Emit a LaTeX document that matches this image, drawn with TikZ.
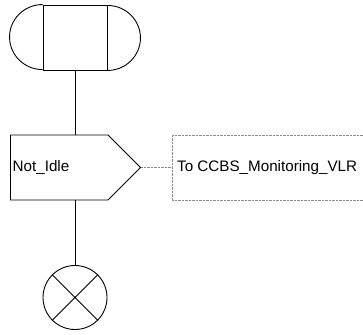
\documentclass[tikz,border=0pt]{standalone}
\usepackage{fontspec}
\setmainfont{Liberation Sans}
\usetikzlibrary{positioning,shapes.symbols}
\definecolor{ink}{HTML}{000000}
\definecolor{hair}{HTML}{8A8A8A}
\tikzset{
  every node/.style={font=\fontsize{15.2}{18}\selectfont, text=ink},
  sym/.style={draw=ink, line width=0.9pt, inner sep=0pt},
  flow/.style={draw=ink, line width=0.9pt},
  hint/.style={draw=hair, line width=0.8pt, dash pattern=on 0.8pt off 0.6pt},
}
\begin{document}
\begin{tikzpicture}[x=1pt,y=-1pt]
\useasboundingbox (0,0) rectangle (363,334);

% start symbol: box with rounded ends
\node[sym, rectangle, minimum width=64pt, minimum height=65pt] (start) at (75,37.5) {};
\draw[sym] (start.north west) arc[start angle=90, end angle=270, x radius=33pt, y radius=32.5pt];
\draw[sym] (start.south east) arc[start angle=-90, end angle=90, x radius=33pt, y radius=32.5pt];

% send signal
\node[sym, signal, signal to=east, signal pointer angle=90, minimum width=130pt,
      minimum height=65pt, anchor=west] (send) at (10,167.5) {};
\node[anchor=west, inner sep=0pt] (sendtxt) at (12.5,167.5) {Not\_Idle};

% comment
\coordinate (cleft) at (172.7,167.5);
\node[anchor=west, inner sep=0pt] (vlr) at (177,167.5) {To CCBS\_Monitoring\_VLR};
\draw[hint] (366,135) -- (172.7,135) -- (172.7,200) -- (366,200);
\draw[hint] (send.east) -- (cleft);

% stop
\node[sym, circle, minimum size=64pt] (stop) at (75,297.5) {};
\draw[sym] (stop.45) -- (stop.225) (stop.135) -- (stop.315);

\draw[flow] (start.south) -- (start.south |- send.north);
\draw[flow] (start.south |- send.south) -- (stop.north);
\end{tikzpicture}
\end{document}
